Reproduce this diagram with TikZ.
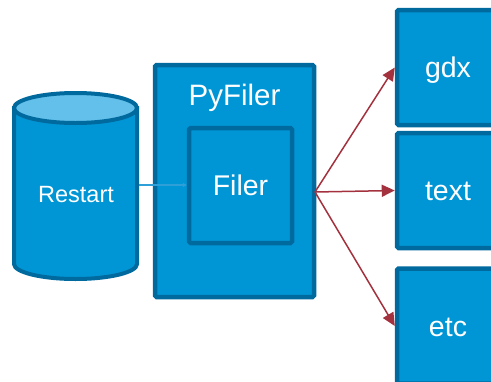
\documentclass[tikz,border=0pt]{standalone}
\usepackage{fontspec}
\setmainfont{Liberation Sans}
\usetikzlibrary{arrows.meta}
\definecolor{boxfill}{HTML}{0096D6}
\definecolor{boxedge}{HTML}{006A9E}
\definecolor{capfill}{HTML}{62C0EA}
\definecolor{linkblue}{HTML}{2F9FD8}
\definecolor{flowred}{HTML}{A3323E}
\tikzset{
  bluebox/.style={draw=boxedge, fill=boxfill, line width=4.5pt, rounded corners=1.5pt,
    inner sep=0pt, font=\fontsize{28.5}{30}\selectfont, text=white,
    text height=20.4pt, text depth=0pt},
  flow/.style={draw=flowred, line width=1.5pt, -{Triangle[length=13pt,width=12pt]}},
}
\begin{document}
\begin{tikzpicture}[x=1pt,y=-1pt]
  \useasboundingbox (0,0) rectangle (491,381);
  \clip (0,0) rectangle (491,381);

  % database cylinder
  \filldraw[fill=boxfill, draw=boxedge, line width=4pt]
    (14,108) -- (14,264) arc[start angle=180, end angle=0, x radius=61.5, y radius=15]
    -- (137,108) -- cycle;
  \filldraw[fill=capfill, draw=boxedge, line width=4pt]
    (75.5,108) ellipse[x radius=61.5, y radius=15];
  \node[text=white, font=\fontsize{23.5}{26}\selectfont, inner sep=0pt, anchor=base]
    (restart) at (76,202.3) {Restart};
  \coordinate (restartout) at (139,185);

  % PyFiler container with the Filer box inside
  \node[bluebox, minimum width=159pt, minimum height=232pt] (pyfiler) at (234.5,181) {};
  \node[text=white, font=\fontsize{29.5}{30}\selectfont, inner sep=0pt, anchor=base]
    (pytitle) at (234.5,105) {PyFiler};
  \node[bluebox, minimum width=103pt, minimum height=115pt] (filer) at (240.5,185.5) {Filer};

  % output targets
  \node[bluebox, minimum width=102pt, minimum height=115pt] (gdx) at (448,67.5) {gdx};
  \node[bluebox, minimum width=102pt, minimum height=115pt] (text) at (448,190.5) {text};
  \node[bluebox, minimum width=102pt, minimum height=115pt] (etc) at (448,326) {etc};

  % connectors
  \draw[linkblue, line width=1.3pt, -{Stealth[length=4pt,width=4pt]}] (restartout) -- (filer.west |- restartout);
  \coordinate (fan) at (315,192);
  \draw[flow] (fan) -- (gdx.west);
  \draw[flow] (fan) -- (text.west);
  \draw[flow] (fan) -- (etc.west);
\end{tikzpicture}
\end{document}
